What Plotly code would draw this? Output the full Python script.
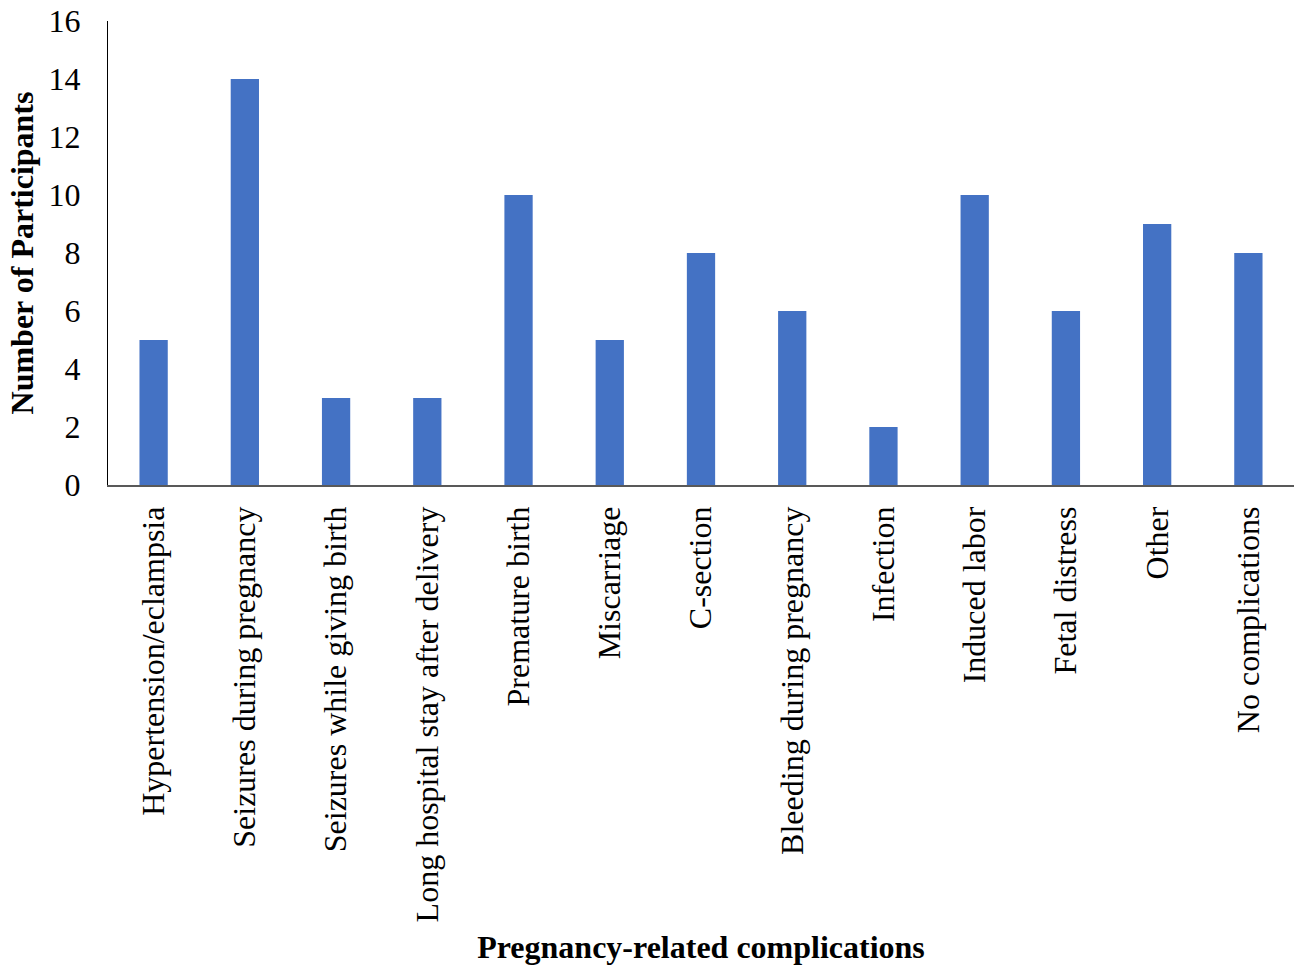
import plotly.graph_objects as go

categories = [
    "Hypertension/eclampsia",
    "Seizures during pregnancy",
    "Seizures while giving birth",
    "Long hospital stay after delivery",
    "Premature birth",
    "Miscarriage",
    "C-section",
    "Bleeding during pregnancy",
    "Infection",
    "Induced labor",
    "Fetal distress",
    "Other",
    "No complications",
]
participants = [5, 14, 3, 3, 10, 5, 8, 6, 2, 10, 6, 9, 8]

y_ticks = [0, 2, 4, 6, 8, 10, 12, 14, 16]

serif = "Liberation Serif, Times New Roman, serif"

fig = go.Figure(
    go.Bar(
        x=categories,
        y=participants,
        marker=dict(color="#4472C4", line=dict(width=0)),
        width=0.31,
    )
)

fig.update_layout(
    width=1302,
    height=966,
    margin=dict(l=108, r=8, t=21, b=481),
    paper_bgcolor="white",
    plot_bgcolor="white",
    showlegend=False,
    font=dict(family=serif, color="black"),
    bargap=0.69,
)

fig.update_xaxes(
    tickangle=-90,
    tickfont=dict(family=serif, size=32, color="black"),
    showline=True,
    linecolor="#595959",
    linewidth=1.5,
    ticks="",
    showgrid=False,
    ticklabelstandoff=7,
    automargin=False,
    title=dict(
        text="<b>Pregnancy-related complications</b>",
        font=dict(family=serif, size=32, color="black"),
        standoff=14,
    ),
)

fig.update_yaxes(
    range=[0, 16],
    tickvals=y_ticks,
    tickfont=dict(family=serif, size=32, color="black"),
    showline=True,
    linecolor="black",
    linewidth=1,
    ticks="",
    showgrid=False,
    zeroline=False,
    ticklabelstandoff=20,
    automargin=False,
    title=dict(
        text="<b>Number of Participants</b>",
        font=dict(family=serif, size=32, color="black"),
        standoff=5,
    ),
)

fig.write_html("out.html")
